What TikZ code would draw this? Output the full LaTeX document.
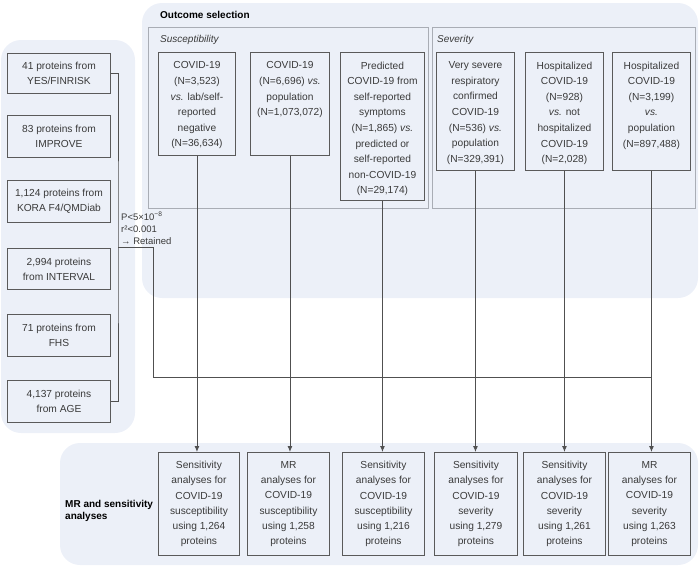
\documentclass[tikz,border=0pt]{standalone}
\usepackage{fontspec}
\setmainfont{Liberation Sans}
\usetikzlibrary{arrows.meta}
\definecolor{panelfill}{HTML}{ECF0F8}
\definecolor{subline}{HTML}{A9ADB5}
\definecolor{boxline}{HTML}{5A5A5A}
\definecolor{txtcol}{HTML}{3A3A3A}
\definecolor{conn}{HTML}{505050}
\tikzset{
  panel/.style={fill=panelfill, draw=none, rounded corners=20pt},
  subpanel/.style={draw=subline, line width=0.8pt},
  box/.style={draw=boxline, line width=0.9pt, inner sep=0pt, anchor=north west, text=txtcol, align=center},
  lbox/.style={box, minimum width=103pt, font=\fontsize{10.2}{15}\selectfont},
  bbox/.style={box, minimum height=103pt, font=\fontsize{10.2}{15.2}\selectfont},
  obox/.style={box},
  otext/.style={anchor=north, inner sep=0pt, text=txtcol, align=center, font=\fontsize{10.2}{15.6}\selectfont},
  conn/.style={draw=conn, line width=0.9pt},
  arr/.style={conn, -{Latex[length=6pt,width=5pt]}},
  title/.style={anchor=west, inner sep=0pt, text=black, font=\fontsize{10}{12}\selectfont\bfseries},
  subtitle/.style={anchor=west, inner sep=0pt, text=txtcol, font=\fontsize{10}{12}\selectfont\itshape},
  thr/.style={anchor=north west, inner sep=0pt, text=txtcol, align=left, font=\fontsize{9.5}{12}\selectfont},
}
\begin{document}
\begin{tikzpicture}[x=1pt,y=-1pt]
\useasboundingbox (0,0) rectangle (700,566);
% panels
\path[panel] (1,40) rectangle (135,433);
\path[panel] (142,3) rectangle (698,298);
\path[panel] (60,443) rectangle (698,565);
\draw[subpanel] (148,27) rectangle (428,208);
\draw[subpanel] (432,27) rectangle (695,208);
% titles
\node[title] (outsel) at (160,15) {Outcome selection};
\node[subtitle] (susc) at (160,40) {Susceptibility};
\node[subtitle] (sever) at (437,40) {Severity};
\node[title, align=left] (mrsens) at (65,511) {MR and sensitivity\\analyses};
% left boxes
\node[lbox, minimum height=40pt] (l1) at (7,53) {41 proteins from\\YES/FINRISK};
\node[lbox, minimum height=42pt] (l2) at (7,115) {83 proteins from\\IMPROVE};
\node[lbox, minimum height=42pt] (l3) at (7,180) {1,124 proteins from\\KORA F4/QMDiab};
\node[lbox, minimum height=41pt] (l4) at (7,248) {2,994 proteins\\from INTERVAL};
\node[lbox, minimum height=42pt] (l5) at (7,314) {71 proteins from\\FHS};
\node[lbox, minimum height=42pt] (l6) at (7,380) {4,137 proteins\\from AGE};
% outcome boxes
\node[obox, minimum width=77pt, minimum height=103pt] (o1) at (158,52) {};
\node[obox, minimum width=79pt, minimum height=103pt] (o2) at (250,52) {};
\node[obox, minimum width=84pt, minimum height=148pt] (o3) at (340,52) {};
\node[obox, minimum width=78pt, minimum height=118pt] (o4) at (436,52) {};
\node[obox, minimum width=78pt, minimum height=118pt] (o5) at (525,52) {};
\node[obox, minimum width=78pt, minimum height=118pt] (o6) at (612,52) {};
\node[otext] (o1t) at ([yshift=-9.5pt]o1.north) {COVID-19\\(N=3,523)\\\textit{vs.} lab/self-\\reported\\negative\\(N=36,634)};
\node[otext] (o2t) at ([yshift=-9.5pt]o2.north) {COVID-19\\(N=6,696) \textit{vs.}\\population\\(N=1,073,072)};
\node[otext] (o3t) at ([yshift=-9.5pt]o3.north) {Predicted\\COVID-19 from\\self-reported\\symptoms\\(N=1,865) \textit{vs.}\\predicted or\\self-reported\\non-COVID-19\\(N=29,174)};
\node[otext] (o4t) at ([yshift=-9.5pt]o4.north) {Very severe\\respiratory\\confirmed\\COVID-19\\(N=536) \textit{vs.}\\population\\(N=329,391)};
\node[otext] (o5t) at ([yshift=-9.5pt]o5.north) {Hospitalized\\COVID-19\\(N=928)\\\textit{vs.} not\\hospitalized\\COVID-19\\(N=2,028)};
\node[otext] (o6t) at ([yshift=-9.5pt]o6.north) {Hospitalized\\COVID-19\\(N=3,199)\\\textit{vs.}\\population\\(N=897,488)};
% bottom boxes
\node[bbox, minimum width=81pt] (b1) at (158,452) {Sensitivity\\analyses for\\COVID-19\\susceptibility\\using 1,264\\proteins};
\node[bbox, minimum width=82pt] (b2) at (247,452) {MR\\analyses for\\COVID-19\\susceptibility\\using 1,258\\proteins};
\node[bbox, minimum width=82pt] (b3) at (342,452) {Sensitivity\\analyses for\\COVID-19\\susceptibility\\using 1,216\\proteins};
\node[bbox, minimum width=83pt] (b4) at (434,452) {Sensitivity\\analyses for\\COVID-19\\severity\\using 1,279\\proteins};
\node[bbox, minimum width=82pt] (b5) at (523,452) {Sensitivity\\analyses for\\COVID-19\\severity\\using 1,261\\proteins};
\node[bbox, minimum width=82pt] (b6) at (608,452) {MR\\analyses for\\COVID-19\\severity\\using 1,263\\proteins};
% threshold label
\node[thr] (thresh) at (121,212) {P<5×10\textsuperscript{−8}\\r²<0.001\\→ Retained};
% bracket and retained path
\coordinate (brk) at (118,247);
\coordinate (turn) at (153,377);
\draw[conn] (l1.east) -| (brk) |- (l6.east);
\draw[conn] (brk) -- (brk -| turn) -- (turn) -- (turn -| o6.south);
% arrows
\foreach \i in {1,...,6}{
  \draw[arr] (o\i.south) -- (o\i.south |- b\i.north);
}
\end{tikzpicture}
\end{document}
